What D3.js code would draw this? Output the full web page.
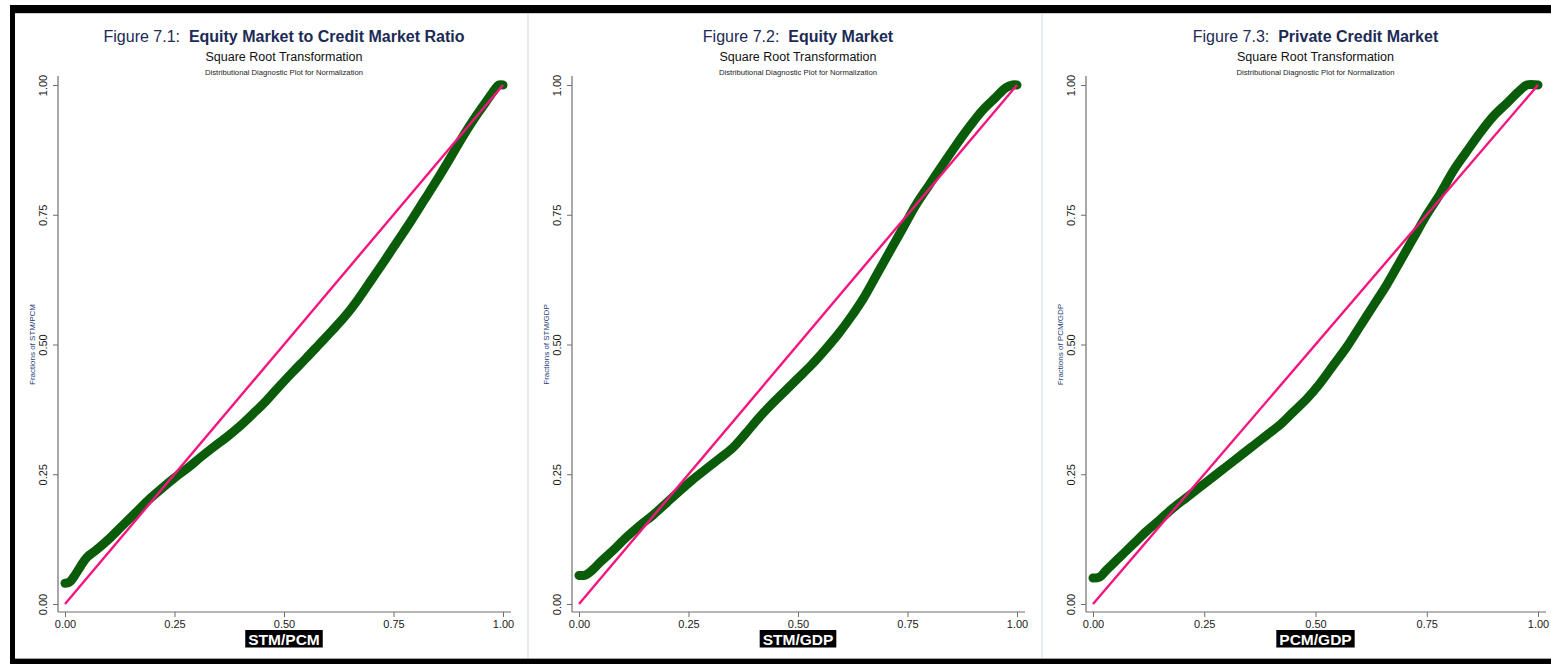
<!DOCTYPE html>
<html>
<head>
<meta charset="utf-8">
<script src="https://cdn.jsdelivr.net/npm/d3@7"></script>
<style>
  html, body { margin: 0; padding: 0; background: #ffffff; }
  svg { display: block; }
  text { font-family: "Liberation Sans", Arial, Helvetica, sans-serif; }
</style>
</head>
<body>
<svg id="chart" width="1551" height="664"></svg>
<script>
// ---- chart data -------------------------------------------------------
const figureNumbers = ["Figure 7.1:", "Figure 7.2:", "Figure 7.3:"];
const figureTitles = ["Equity Market to Credit Market Ratio", "Equity Market", "Private Credit Market"];
const subtitle = "Square Root Transformation";
const note = "Distributional Diagnostic Plot for Normalization";
const variableNames = ["STM/PCM", "STM/GDP", "PCM/GDP"];
const tickValues = [0, 0.25, 0.5, 0.75, 1];

// P-P points: [empirical fraction, normal fraction]
const stmPcmPoints = [
  [0.000, 0.040], [0.010, 0.042], [0.020, 0.052], [0.035, 0.072], [0.050, 0.090],
  [0.070, 0.103], [0.100, 0.125], [0.130, 0.150], [0.160, 0.175], [0.190, 0.200],
  [0.220, 0.222], [0.250, 0.243], [0.280, 0.262], [0.310, 0.283], [0.340, 0.303],
  [0.370, 0.322], [0.400, 0.343], [0.430, 0.367], [0.460, 0.392], [0.490, 0.420],
  [0.520, 0.447], [0.550, 0.473], [0.580, 0.500], [0.610, 0.527], [0.640, 0.555],
  [0.670, 0.588], [0.700, 0.625], [0.730, 0.662], [0.760, 0.700], [0.790, 0.738],
  [0.820, 0.778], [0.850, 0.818], [0.880, 0.860], [0.910, 0.903], [0.940, 0.942],
  [0.960, 0.966], [0.980, 0.990], [0.990, 1.000], [1.000, 1.000]
];
const stmGdpPoints = [
  [0.000, 0.055], [0.015, 0.056], [0.030, 0.065], [0.050, 0.082], [0.080, 0.105],
  [0.110, 0.130], [0.140, 0.152], [0.170, 0.172], [0.200, 0.195], [0.230, 0.218],
  [0.260, 0.240], [0.290, 0.260], [0.320, 0.280], [0.350, 0.300], [0.380, 0.328],
  [0.410, 0.358], [0.440, 0.385], [0.470, 0.410], [0.500, 0.435], [0.530, 0.460],
  [0.560, 0.488], [0.590, 0.518], [0.620, 0.552], [0.650, 0.590], [0.680, 0.635],
  [0.710, 0.680], [0.740, 0.725], [0.770, 0.770], [0.800, 0.808], [0.830, 0.846],
  [0.860, 0.883], [0.890, 0.918], [0.920, 0.950], [0.950, 0.975], [0.975, 0.995],
  [0.990, 1.000], [1.000, 1.000]
];
const pcmGdpPoints = [
  [0.000, 0.050], [0.015, 0.052], [0.030, 0.065], [0.060, 0.090], [0.090, 0.115],
  [0.120, 0.140], [0.150, 0.162], [0.180, 0.185], [0.210, 0.205], [0.240, 0.225],
  [0.270, 0.245], [0.300, 0.265], [0.330, 0.285], [0.360, 0.305], [0.390, 0.325],
  [0.420, 0.345], [0.450, 0.370], [0.480, 0.395], [0.510, 0.425], [0.540, 0.460],
  [0.570, 0.495], [0.600, 0.535], [0.630, 0.575], [0.660, 0.615], [0.690, 0.660],
  [0.720, 0.705], [0.750, 0.750], [0.780, 0.790], [0.810, 0.835], [0.840, 0.872],
  [0.870, 0.908], [0.900, 0.940], [0.930, 0.965], [0.960, 0.990], [0.975, 1.000],
  [1.000, 1.000]
];
const referenceLine = [[0, 0], [1, 1]];

// ---- layout -----------------------------------------------------------
const panels = [
  { number: figureNumbers[0], title: figureTitles[0], variable: variableNames[0], points: stmPcmPoints,
    x0: 65, x1: 503 },
  { number: figureNumbers[1], title: figureTitles[1], variable: variableNames[1], points: stmGdpPoints,
    x0: 579, x1: 1017 },
  { number: figureNumbers[2], title: figureTitles[2], variable: variableNames[2], points: pcmGdpPoints,
    x0: 1093, x1: 1538 }
];

const Y0 = 604, Y1 = 85;          // pixel rows of 0 and 1 on the vertical axis
const axisY = 612;                 // horizontal axis line
const axisTop = 76;                // top of vertical axis line
const titleColor = "#1c2b55";
const curveColor = "#0a5c0a";
const refColor = "#f5157f";
const axisColor = "#6e6e6e";

const svg = d3.select("#chart");

// page frame
svg.append("rect").attr("x", 0).attr("y", 0).attr("width", 1551).attr("height", 664).attr("fill", "#ffffff");
svg.append("rect").attr("x", 10).attr("y", 5).attr("width", 1541).attr("height", 659).attr("fill", "#000000");
svg.append("rect").attr("x", 15).attr("y", 13).attr("width", 1536).attr("height", 646).attr("fill", "#ffffff");
svg.append("line").attr("x1", 15).attr("x2", 1551).attr("y1", 13.5).attr("y2", 13.5)
  .attr("stroke", "#c9cfd3").attr("stroke-width", 1);
svg.append("line").attr("x1", 15).attr("x2", 1551).attr("y1", 658.5).attr("y2", 658.5)
  .attr("stroke", "#9aa0a4").attr("stroke-width", 1);

// faint panel separators
[528, 1042].forEach(px => {
  svg.append("line").attr("x1", px).attr("x2", px).attr("y1", 14).attr("y2", 658)
    .attr("stroke", "#e4ecef").attr("stroke-width", 2);
});

panels.forEach(p => {
  const g = svg.append("g");
  const x = d3.scaleLinear().domain([0, 1]).range([p.x0, p.x1]);
  const y = d3.scaleLinear().domain([0, 1]).range([Y0, Y1]);
  const axisX = p.x0 - 7;          // vertical axis line position
  const cx = (p.x0 + p.x1) / 2;

  // titles
  const t = g.append("text").attr("x", cx).attr("y", 42).attr("text-anchor", "middle")
    .attr("font-size", 16).attr("fill", titleColor);
  t.append("tspan").text(p.number + "\u00a0\u00a0");
  t.append("tspan").attr("font-weight", "bold").text(p.title);
  g.append("text").attr("x", cx).attr("y", 61).attr("text-anchor", "middle")
    .attr("font-size", 12.5).attr("fill", "#111").text(subtitle);
  g.append("text").attr("x", cx).attr("y", 74.5).attr("text-anchor", "middle")
    .attr("font-size", 7.7).attr("fill", "#222").text(note);

  // axes
  const xAxis = d3.axisBottom(x).tickValues(tickValues).tickFormat(d3.format(".2f"))
    .tickSize(5).tickPadding(3);
  const xg = g.append("g").attr("transform", `translate(0,${axisY})`).call(xAxis);
  xg.select(".domain").remove();
  xg.selectAll(".tick line").attr("stroke", axisColor);
  xg.selectAll(".tick text").attr("font-size", 11).attr("fill", "#1a1a1a")
    .attr("font-family", "Liberation Sans, Arial, sans-serif");

  const yAxis = d3.axisLeft(y).tickValues(tickValues).tickFormat(d3.format(".2f"))
    .tickSize(5).tickPadding(0);
  const yg = g.append("g").attr("transform", `translate(${axisX},0)`).call(yAxis);
  yg.select(".domain").remove();
  yg.selectAll(".tick line").attr("stroke", axisColor);
  yg.selectAll(".tick text")
    .attr("x", null).attr("dy", null)
    .attr("text-anchor", "middle")
    .attr("transform", "translate(-11,0) rotate(-90)")
    .attr("font-size", 11).attr("fill", "#1a1a1a")
    .attr("font-family", "Liberation Sans, Arial, sans-serif");

  g.append("line").attr("x1", axisX).attr("x2", p.x1 + 8).attr("y1", axisY).attr("y2", axisY)
    .attr("stroke", axisColor).attr("stroke-width", 1.2);
  g.append("line").attr("x1", axisX).attr("x2", axisX).attr("y1", axisTop).attr("y2", axisY)
    .attr("stroke", axisColor).attr("stroke-width", 1.2);

  // vertical axis title
  g.append("text")
    .attr("transform", `translate(${axisX - 23},${y(0.5)}) rotate(-90)`)
    .attr("text-anchor", "middle").attr("font-size", 8).attr("fill", "#24407a")
    .text("Fractions of " + p.variable);

  // horizontal axis title in a black box
  const lbl = g.append("text").attr("x", cx).attr("y", 644.5).attr("text-anchor", "middle")
    .attr("font-size", 15.5).attr("font-weight", "bold").attr("fill", "#ffffff").text(p.variable);
  const bb = lbl.node().getBBox();
  g.append("rect")
    .attr("x", bb.x - 3).attr("y", 630).attr("width", bb.width + 6).attr("height", 17.5)
    .attr("fill", "#000000");
  lbl.raise();

  // reference diagonal and P-P curve
  const curve = d3.line().x(d => x(d[0])).y(d => y(d[1])).curve(d3.curveCatmullRom);
  g.append("path").datum(p.points).attr("d", curve)
    .attr("fill", "none").attr("stroke", curveColor).attr("stroke-width", 9)
    .attr("stroke-linecap", "round").attr("stroke-linejoin", "round");
  const diag = d3.line().x(d => x(d[0])).y(d => y(d[1]));
  g.append("path").datum(referenceLine).attr("d", diag)
    .attr("fill", "none").attr("stroke", refColor).attr("stroke-width", 2.4);
});
</script>
</body>
</html>
